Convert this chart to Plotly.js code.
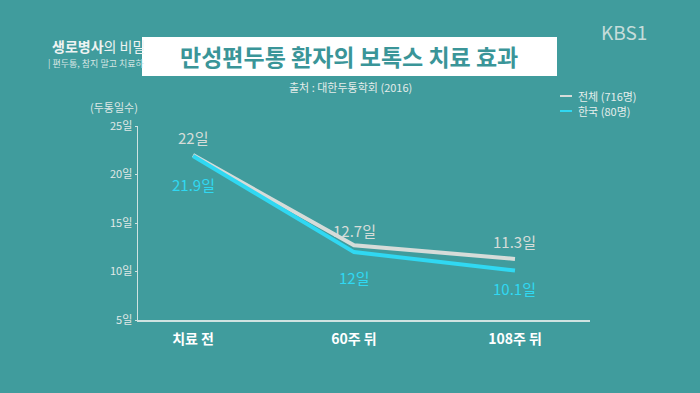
<!DOCTYPE html>
<html>
<head>
<meta charset="utf-8">
<script src="https://cdn.plot.ly/plotly-3.0.1.min.js"></script>
<style>html,body{margin:0;padding:0;background:#409c9d;}#chart{width:700px;height:393px;}</style>
</head>
<body>
<div id="chart"></div>
<script>
const categories = ['치료 전', '60주 뒤', '108주 뒤'];
const catPos = [0, 1, 2];
const totalValues = [22, 12.7, 11.3];
const koreaValues = [21.9, 12, 10.1];
const totalLabels = ['22일', '12.7일', '11.3일'];
const koreaLabels = ['21.9일', '12일', '10.1일'];
const yTickVals = [5, 10, 15, 20, 25];
const yTickText = ['5일', '10일', '15일', '20일', '25일'];
const seriesNames = ['전체 (716명)', '한국 (80명)'];

// label offsets in pixels (style, not data)
const totalShift = [18, 15, 17];
const koreaShift = [-28, -25, -18];

const BG = '#409c9d';
const GREY = '#d6dcd9';
const CYAN = '#30d8f2';
const FONT = '"Noto Sans CJK KR", "Noto Sans", sans-serif';

const traces = [
  {x: catPos, y: totalValues, name: seriesNames[0], mode: 'lines',
   line: {color: GREY, width: 4}},
  {x: catPos, y: koreaValues, name: seriesNames[1], mode: 'lines',
   line: {color: CYAN, width: 4}}
];

const annotations = [];
catPos.forEach((p, i) => {
  annotations.push({x: p, y: totalValues[i], xref: 'x', yref: 'y', text: totalLabels[i],
    showarrow: false, yshift: totalShift[i], font: {family: FONT, size: 15, color: GREY}});
  annotations.push({x: p, y: koreaValues[i], xref: 'x', yref: 'y', text: koreaLabels[i],
    showarrow: false, yshift: koreaShift[i], font: {family: FONT, size: 15, color: CYAN}});
});
// manual legend
const legendColors = [GREY, CYAN];
const legendY = [96, 111];
const shapes = [
  {type: 'rect', xref: 'paper', yref: 'paper', xsizemode: 'pixel', ysizemode: 'pixel',
   xanchor: 0, yanchor: 1, x0: 4, x1: 419, y0: 50, y1: 89,
   fillcolor: '#ffffff', line: {width: 0}, layer: 'below'}
];
seriesNames.forEach((n, i) => {
  shapes.push({type: 'line', xref: 'paper', yref: 'paper', xsizemode: 'pixel', ysizemode: 'pixel',
    xanchor: 0, yanchor: 1, x0: 422, x1: 434, y0: 126 - legendY[i], y1: 126 - legendY[i],
    line: {color: legendColors[i], width: 2}});
  annotations.push({xref: 'paper', yref: 'paper', x: 0, y: 1, xanchor: 'left', yanchor: 'middle',
    text: n, showarrow: false, xshift: 438, yshift: 126 - legendY[i],
    font: {family: FONT, size: 11, color: '#e6eeec'}});
});
annotations.push(
  {xref: 'paper', yref: 'paper', x: 0.5, y: 1, xanchor: 'center', yanchor: 'middle',
   text: '<b>만성편두통 환자의 보톡스 치료 효과</b>', showarrow: false,
   yshift: 70, xshift: -15, font: {family: FONT, size: 23, color: '#3a9598'}},
  {xref: 'paper', yref: 'paper', x: 0.5, y: 1, xanchor: 'center', yanchor: 'middle',
   text: '출처 : 대한두통학회 (2016)', showarrow: false,
   yshift: 39, xshift: -14, font: {family: FONT, size: 11, color: '#e4ecea'}},
  {xref: 'paper', yref: 'paper', x: 0, y: 1, xanchor: 'right', yanchor: 'middle',
   text: '(두통일수)', showarrow: false, xshift: 2, yshift: 19,
   font: {family: FONT, size: 11, color: '#dfe8e6'}},
  {xref: 'paper', yref: 'paper', x: 0, y: 1, xanchor: 'left', yanchor: 'middle',
   text: 'KBS1', showarrow: false, xshift: 461, yshift: 95,
   font: {family: FONT, size: 19, color: '#c5dcda'}},
  {xref: 'paper', yref: 'paper', x: 0, y: 1, xanchor: 'left', yanchor: 'middle',
   text: '<b>생로병사</b>의 비밀', showarrow: false, xshift: -88, yshift: 80,
   font: {family: FONT, size: 14, color: '#eef3f2'}},
  {xref: 'paper', yref: 'paper', x: 0, y: 1, xanchor: 'left', yanchor: 'middle',
   text: '| 편두통, 참지 말고 치료하', showarrow: false, xshift: -92, yshift: 63,
   font: {family: FONT, size: 9, color: '#d6e6e4'}}
);

const layout = {
  width: 700, height: 393,
  margin: {l: 138, r: 110, t: 126, b: 73},
  paper_bgcolor: BG, plot_bgcolor: BG,
  font: {family: FONT, color: '#e6eeec'},
  showlegend: false,
  xaxis: {range: [-0.342, 2.466], tickmode: 'array', tickvals: catPos, ticktext: categories,
    showgrid: false, zeroline: false, showline: true, linecolor: '#cfe3e1', linewidth: 1.5,
    ticks: '', ticklabelstandoff: 6,
    tickfont: {family: FONT, size: 14, color: '#ffffff', weight: 'bold'}, fixedrange: true},
  yaxis: {range: [5, 25], tickmode: 'array', tickvals: yTickVals, ticktext: yTickText,
    showgrid: false, zeroline: false, showline: true, linecolor: '#cfe3e1', linewidth: 1.5,
    ticks: 'outside', ticklen: 2, tickcolor: '#cfe3e1',
    tickfont: {family: FONT, size: 11, color: '#e0e9e7'}, fixedrange: true},
  shapes: shapes,
  annotations: annotations
};

Plotly.newPlot('chart', traces, layout, {displayModeBar: false, staticPlot: true});
</script>
</body>
</html>
